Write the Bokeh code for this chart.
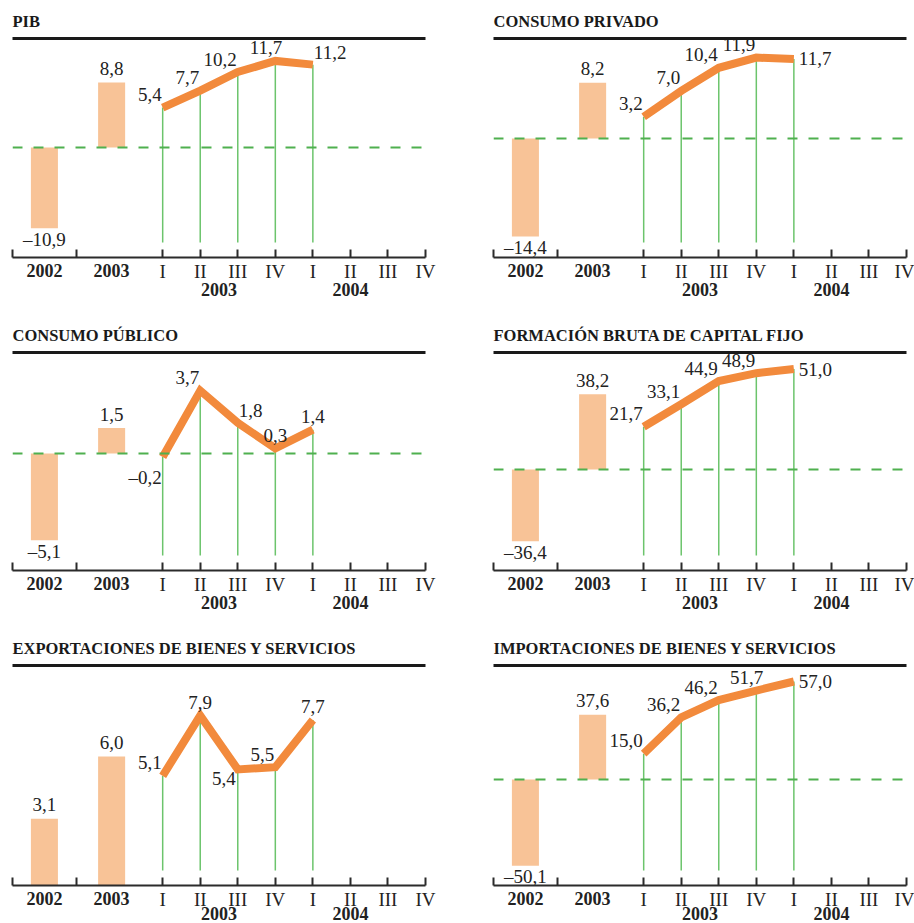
from bokeh.plotting import figure
from bokeh.layouts import column, row
from bokeh.models import Range1d, FixedTicker, LinearAxis, Span, Title, ColumnDataSource
from bokeh.core.properties import value
from bokeh.embed import file_html
from bokeh.resources import INLINE

# ---- data: annual and quarterly rates (%) ----
YEARS = ["2002", "2003"]
QUARTERS = ["I", "II", "III", "IV", "I", "II", "III", "IV"]
QUARTER_YEARS = ["2003", "2004"]

TITLES = [
    "PIB",
    "CONSUMO PRIVADO",
    "CONSUMO PÚBLICO",
    "FORMACIÓN BRUTA DE CAPITAL FIJO",
    "EXPORTACIONES DE BIENES Y SERVICIOS",
    "IMPORTACIONES DE BIENES Y SERVICIOS",
]

pib_annual = [-10.9, 8.8]
pib_quarterly = [5.4, 7.7, 10.2, 11.7, 11.2]

cpriv_annual = [-14.4, 8.2]
cpriv_quarterly = [3.2, 7.0, 10.4, 11.9, 11.7]

cpub_annual = [-5.1, 1.5]
cpub_quarterly = [-0.2, 3.7, 1.8, 0.3, 1.4]

fbcf_annual = [-36.4, 38.2]
fbcf_quarterly = [21.7, 33.1, 44.9, 48.9, 51.0]

exp_annual = [3.1, 6.0]
exp_quarterly = [5.1, 7.9, 5.4, 5.5, 7.7]

imp_annual = [-50.1, 37.6]
imp_quarterly = [15.0, 36.2, 46.2, 51.7, 57.0]

ANNUAL = [pib_annual, cpriv_annual, cpub_annual, fbcf_annual, exp_annual, imp_annual]
QUARTERLY = [pib_quarterly, cpriv_quarterly, cpub_quarterly, fbcf_quarterly,
             exp_quarterly, imp_quarterly]

# ---- layout ----
Y_RANGES = [(-14.86, 14.73), (-17.5, 14.71), (-6.88, 5.94),
            (-51.3, 59.4), (0.0, 10.23), (-61.6, 66.3)]
LABEL_CODES = [
    ["nw", "nw", "nw", "nr", "ne"],
    ["nw", "nw", "nw", "nw", "e"],
    ["sw2", "nw", "ne", "n", "n"],
    ["nw", "nw", "nw", "nw", "e"],
    ["nw", "n", "sw", "nw", "n"],
    ["nw", "nw", "nw", "nr", "e"],
]
# align, dx, dy (pixels, dy upwards)
PLACE = {
    "nw": ("right", -1, 13),
    "nr": ("right", 7, 13),
    "n": ("center", 0, 13),
    "ne": ("left", 1, 12),
    "e": ("left", 5, 0),
    "sw": ("right", -2, -9),
    "sw2": ("right", -1, -21),
}
BAR_LABEL_UP = 14       # above a positive bar
BAR_LABEL_DOWN = 11     # below a negative bar

ANNUAL_X = [-3.15, -1.36]
QUARTER_X = list(range(8))
GROUP_X = [1.5, 5.0]
BOUNDARY_TICKS = [-4.0, -2.3]

COL_BORDERS = [(12, 32), (36, 8)]           # left, right
# height, top border, bottom border, standoff of the year captions
ROW_GEOM = [(310, 38, 53, -2), (310, 42, 50, -2), (303, 45, 38, -6)]

BAR_COLOR = "#F8C397"
LINE_COLOR = "#F28A3C"
STEM_COLOR = "#6CC46C"
ZERO_COLOR = "#4FB04F"
AXIS_COLOR = "#2b2b2b"
TEXT_COLOR = "#222222"
FONT = "Liberation Serif"


def fmt(v):
    s = f"{v:.1f}".replace(".", ",")
    return s.replace("-", "\u2013")


def caption_axis(ticks, labels, standoff):
    """A line-less axis that only carries bold captions below the main axis."""
    return LinearAxis(ticker=FixedTicker(ticks=ticks),
                      major_label_overrides=dict(zip(ticks, labels)),
                      axis_line_color=None, major_tick_line_color=None,
                      minor_tick_line_color=None, major_tick_in=0, major_tick_out=0,
                      minor_tick_in=0, minor_tick_out=0,
                      major_label_standoff=standoff, major_label_text_font=FONT,
                      major_label_text_font_style="bold",
                      major_label_text_font_size="18px",
                      major_label_text_color=TEXT_COLOR)


def make_panel(i):
    col, rowi = i % 2, i // 2
    bl, br = COL_BORDERS[col]
    h, bt, bb, cap_standoff = ROW_GEOM[rowi]
    y0, y1 = Y_RANGES[i]
    annual, quarterly = ANNUAL[i], QUARTERLY[i]

    p = figure(width=457, height=h, x_range=Range1d(-4.0, 7.0), y_range=Range1d(y0, y1),
               output_backend="svg", toolbar_location=None, y_axis_location=None,
               min_border_left=bl, min_border_right=br,
               min_border_top=bt, min_border_bottom=bb, title=None)
    p.outline_line_color = None
    p.grid.visible = False
    p.background_fill_color = "white"
    p.border_fill_color = "white"

    frame_h = h - bt - bb
    unit = frame_h / (y1 - y0)   # pixels per data unit

    # annual bars
    p.vbar(x=ANNUAL_X, top=annual, bottom=0, width=0.72,
           fill_color=BAR_COLOR, line_color=None)

    # stems from each quarterly value down towards the axis
    nq = len(quarterly)
    stem_bottom = y0 + 15 / unit
    p.segment(x0=QUARTER_X[:nq], y0=[stem_bottom] * nq, x1=QUARTER_X[:nq], y1=quarterly,
              line_color=STEM_COLOR, line_width=1.5)

    # zero reference
    if y0 < 0:
        p.add_layout(Span(location=0, dimension="width", line_color=ZERO_COLOR,
                          line_width=2, line_dash="10 11"))

    # quarterly line
    p.line(QUARTER_X[:nq], quarterly, line_color=LINE_COLOR, line_width=8,
           line_join="miter", line_cap="butt")

    # value labels
    xs, ys, texts, aligns, dxs, dys = [], [], [], [], [], []
    for x, v in zip(ANNUAL_X, annual):
        xs.append(x); ys.append(v); texts.append(fmt(v)); aligns.append("center")
        dxs.append(0); dys.append(-BAR_LABEL_UP if v >= 0 else BAR_LABEL_DOWN)
    for x, v, code in zip(QUARTER_X, quarterly, LABEL_CODES[i]):
        a, dx, dy = PLACE[code]
        xs.append(x); ys.append(v); texts.append(fmt(v)); aligns.append(a)
        dxs.append(dx); dys.append(-dy)
    src = ColumnDataSource(dict(x=xs, y=ys, text=texts, align=aligns, dx=dxs, dy=dys))
    p.text(x="x", y="y", text="text", source=src, text_align="align",
           x_offset="dx", y_offset="dy", text_baseline="middle",
           text_font=value(FONT), text_font_size="19px", text_color=TEXT_COLOR)

    # rule under the title
    rule = LinearAxis(ticker=FixedTicker(ticks=[]), axis_line_width=3,
                      axis_line_color="#1a1a1a", major_tick_line_color=None,
                      minor_tick_line_color=None, major_label_text_font_size="0px")
    p.add_layout(rule, "above")
    p.add_layout(Title(text=TITLES[i], align="left", offset=0, standoff=15,
                       text_font=FONT, text_font_style="bold",
                       text_font_size="16.5px", text_color="#1a1a1a"), "above")

    # bottom axis: quarters at ticks, year boundaries as minor ticks
    ax = p.below[0]
    ax.ticker = FixedTicker(ticks=QUARTER_X, minor_ticks=BOUNDARY_TICKS)
    ax.major_label_overrides = {q: lab for q, lab in zip(QUARTER_X, QUARTERS)}
    ax.major_tick_in = 8
    ax.major_tick_out = 0
    ax.minor_tick_in = 8
    ax.minor_tick_out = 0
    ax.axis_line_width = 2
    ax.axis_line_color = AXIS_COLOR
    ax.major_tick_line_color = AXIS_COLOR
    ax.minor_tick_line_color = AXIS_COLOR
    ax.major_tick_line_width = 2
    ax.minor_tick_line_width = 2
    ax.major_label_text_font = FONT
    ax.major_label_text_font_size = "19px"
    ax.major_label_text_color = TEXT_COLOR
    ax.major_label_standoff = 3

    # bold captions: annual bars beside the quarters, then the quarter years
    p.add_layout(caption_axis(ANNUAL_X, YEARS, -21), "below")
    p.add_layout(caption_axis(GROUP_X, QUARTER_YEARS, cap_standoff), "below")
    return p


panels = [make_panel(i) for i in range(6)]
layout = column(row(panels[0], panels[1]), row(panels[2], panels[3]),
                row(panels[4], panels[5]))

open("out.html", "w").write(file_html(layout, INLINE))
